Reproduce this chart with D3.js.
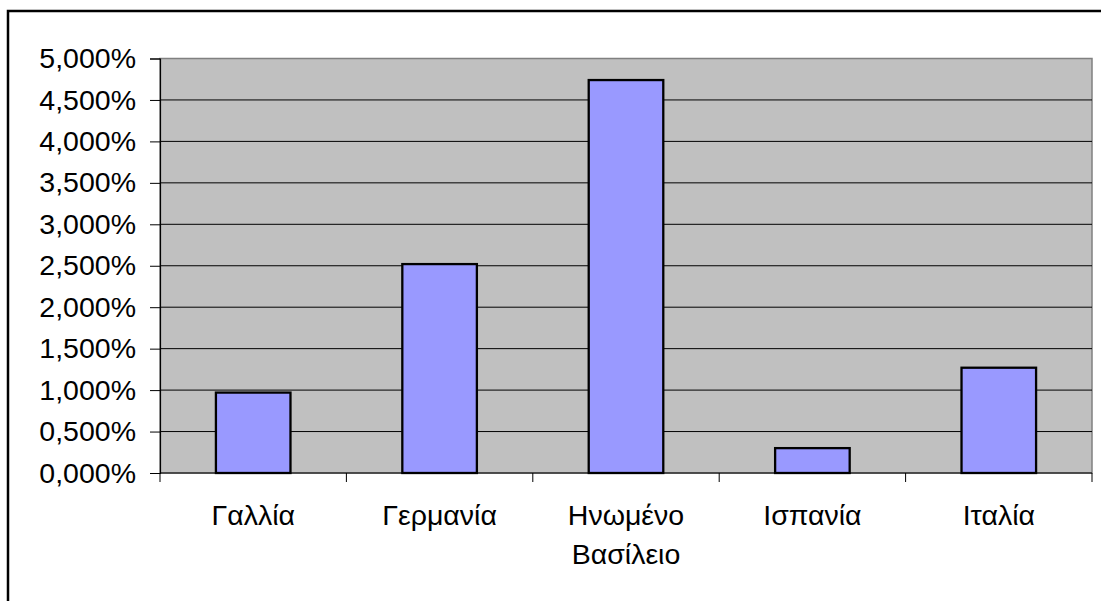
<!DOCTYPE html>
<html>
<head>
<meta charset="utf-8">
<script src="https://cdn.jsdelivr.net/npm/d3@7"></script>
<style>
    body { margin: 0; background: #fff; }
    text { font-family: "Liberation Sans", Arial, sans-serif; fill: #000; }
</style>
</head>
<body>
<div id="chart"></div>
<script>
const categories = ["Γαλλία", "Γερμανία", "Ηνωμένο Βασίλειο", "Ισπανία", "Ιταλία"]
const labelLines = [["Γαλλία"], ["Γερμανία"], ["Ηνωμένο", "Βασίλειο"], ["Ισπανία"], ["Ιταλία"]]
const values = [0.97, 2.52, 4.74, 0.30, 1.27]
const yTicks = [0, 0.5, 1, 1.5, 2, 2.5, 3, 3.5, 4, 4.5, 5];

(function () {
    let w = 1101
    let h = 601
    let left = 160, right = 1092, top = 58.5, bottom = 473

    let svg = d3.select("#chart")
        .append("svg")
        .attr("width", w)
        .attr("height", h)

    // outer frame (runs off the right and bottom edges)
    svg.append("rect")
        .attr("x", 8)
        .attr("y", 11)
        .attr("width", 1110)
        .attr("height", 610)
        .attr("fill", "#fff")
        .attr("stroke", "#000")
        .attr("stroke-width", 2.5)

    let x = d3.scaleBand()
        .domain(categories)
        .range([left, right])
        .paddingInner(0.6)
        .paddingOuter(0.3)

    let y = d3.scaleLinear()
        .domain([0, 5])
        .range([bottom, top])

    let locale = d3.formatLocale({ decimal: ",", thousands: ".", grouping: [3], currency: ["", "€"] })
    let fmt = v => locale.format(".3f")(v) + "%"

    // plot area
    svg.append("rect")
        .attr("x", left)
        .attr("y", top)
        .attr("width", right - left)
        .attr("height", bottom - top)
        .attr("fill", "#c0c0c0")
        .attr("stroke", "#808080")
        .attr("stroke-width", 1.5)

    // gridlines
    svg.append("g")
        .selectAll("line")
        .data(yTicks.filter(d => d > 0 && d < 5))
        .enter()
        .append("line")
        .attr("x1", left)
        .attr("x2", right)
        .attr("y1", d => y(d))
        .attr("y2", d => y(d))
        .attr("stroke", "#000")
        .attr("stroke-width", 1)

    // bars
    svg.append("g")
        .selectAll("rect")
        .data(values)
        .enter()
        .append("rect")
        .attr("x", (d, i) => x(categories[i]))
        .attr("width", x.bandwidth())
        .attr("y", d => y(d))
        .attr("height", d => y(0) - y(d))
        .attr("fill", "#9999ff")
        .attr("stroke", "#000")
        .attr("stroke-width", 2.3)

    // y axis
    let yAxis = d3.axisLeft(y)
        .tickValues(yTicks)
        .tickSize(10)
        .tickPadding(14)
        .tickFormat(fmt)

    let gy = svg.append("g")
        .attr("transform", "translate(" + left + ",0)")
        .call(yAxis)
    gy.select(".domain").attr("stroke", "#000").attr("stroke-width", 1.2)
    gy.selectAll(".tick line").attr("stroke", "#000")
    gy.selectAll("text")
        .attr("font-size", 28.5)
        .attr("font-family", "Liberation Sans, Arial, sans-serif")
        .attr("fill", "#000")

    // x axis: ticks on category boundaries
    let edges = d3.range(categories.length + 1).map(i => left + i * x.step())

    svg.append("line")
        .attr("x1", left)
        .attr("x2", right)
        .attr("y1", bottom)
        .attr("y2", bottom)
        .attr("stroke", "#000")
        .attr("stroke-width", 1.2)

    svg.append("g")
        .selectAll("line")
        .data(edges)
        .enter()
        .append("line")
        .attr("x1", d => d)
        .attr("x2", d => d)
        .attr("y1", bottom)
        .attr("y2", bottom + 9)
        .attr("stroke", "#000")

    // category labels
    let lbl = svg.append("g")
        .selectAll("text")
        .data(labelLines)
        .enter()
        .append("text")
        .attr("text-anchor", "middle")
        .attr("font-size", 28.5)
        .attr("x", (d, i) => x(categories[i]) + x.bandwidth() / 2)
        .attr("y", 525)

    lbl.selectAll("tspan")
        .data(d => d)
        .enter()
        .append("tspan")
        .attr("x", function () { return d3.select(this.parentNode).attr("x") })
        .attr("dy", (d, i) => i === 0 ? 0 : 38.5)
        .text(d => d)
})()
</script>
</body>
</html>
